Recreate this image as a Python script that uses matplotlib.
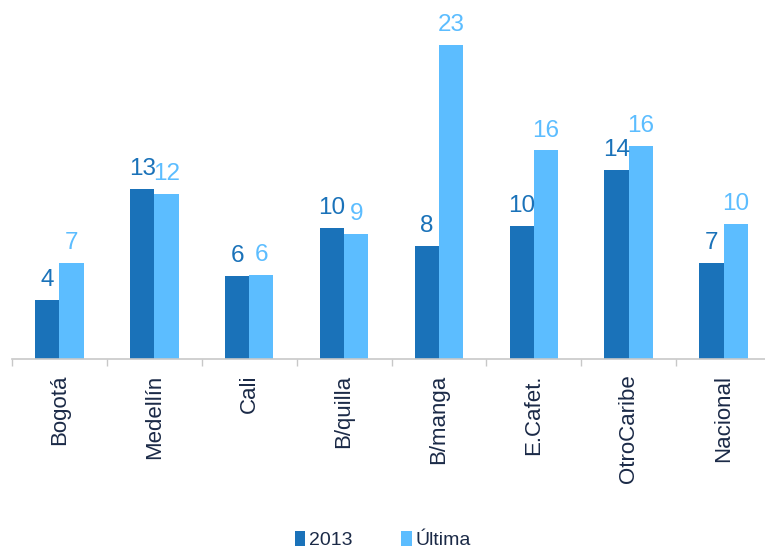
import numpy as np
import matplotlib
matplotlib.use("Agg")
import matplotlib.pyplot as plt

plt.rcParams['font.family'] = ['Liberation Sans', 'DejaVu Sans']

# data
regiones = ['Bogotá', 'Medellín', 'Cali', 'B/quilla', 'B/manga', 'E.Cafet.', 'OtroCaribe', 'Nacional']
v2013 = [4.4, 12.7, 6.2, 9.8, 8.45, 9.9, 14.1, 7.2]
ultima = [7.2, 12.3, 6.3, 9.3, 23.4, 15.55, 15.9, 10.1]
series = ['2013', 'Última']

c_dark = '#1A72B9'
c_light = '#5CBDFF'
c_text = '#1B2A47'

fig = plt.figure(figsize=(7.65, 5.49), dpi=100)
ax = fig.add_axes([12/765, 189.7/549, 759/765, 359.3/549])

x = np.arange(len(regiones))
w = 0.255
b1 = ax.bar(x - w/2, v2013, w, color=c_dark, label=series[0])
b2 = ax.bar(x + w/2, ultima, w, color=c_light, label=series[1])

# value labels
for bars, vals, col in [(b1, v2013, c_dark), (b2, ultima, c_light)]:
    for r, v in zip(bars, vals):
        ax.annotate(f"{v:.0f}", (r.get_x() + r.get_width()/2, r.get_height()),
                    xytext=(0, 10), textcoords='offset points',
                    ha='center', va='baseline', fontsize=17.5, color=col)

ax.set_xlim(-0.5, 7.5)
ax.set_ylim(0, 26.75)

ax.set_xticks(x)
ax.set_xticklabels(regiones, rotation=90, fontsize=16, color=c_text)
ax.tick_params(axis='x', which='major', length=0, pad=11)
ax.set_xticks(np.arange(-0.5, 8, 1), minor=True)
ax.tick_params(axis='x', which='minor', length=5, width=1, color='#C8C8C8')
ax.set_yticks([])

for s in ['left', 'right', 'top']:
    ax.spines[s].set_visible(False)
ax.spines['bottom'].set_color('#C8C8C8')
ax.spines['bottom'].set_linewidth(1.2)

fig.legend(loc='center', bbox_to_anchor=(383/765, 1 - 540/549), ncol=2,
           frameon=False, fontsize=14, handlelength=0.55, handleheight=0.8,
           handletextpad=0.2, columnspacing=2.5, labelcolor=c_text)

fig.savefig('out.png', dpi=100)
